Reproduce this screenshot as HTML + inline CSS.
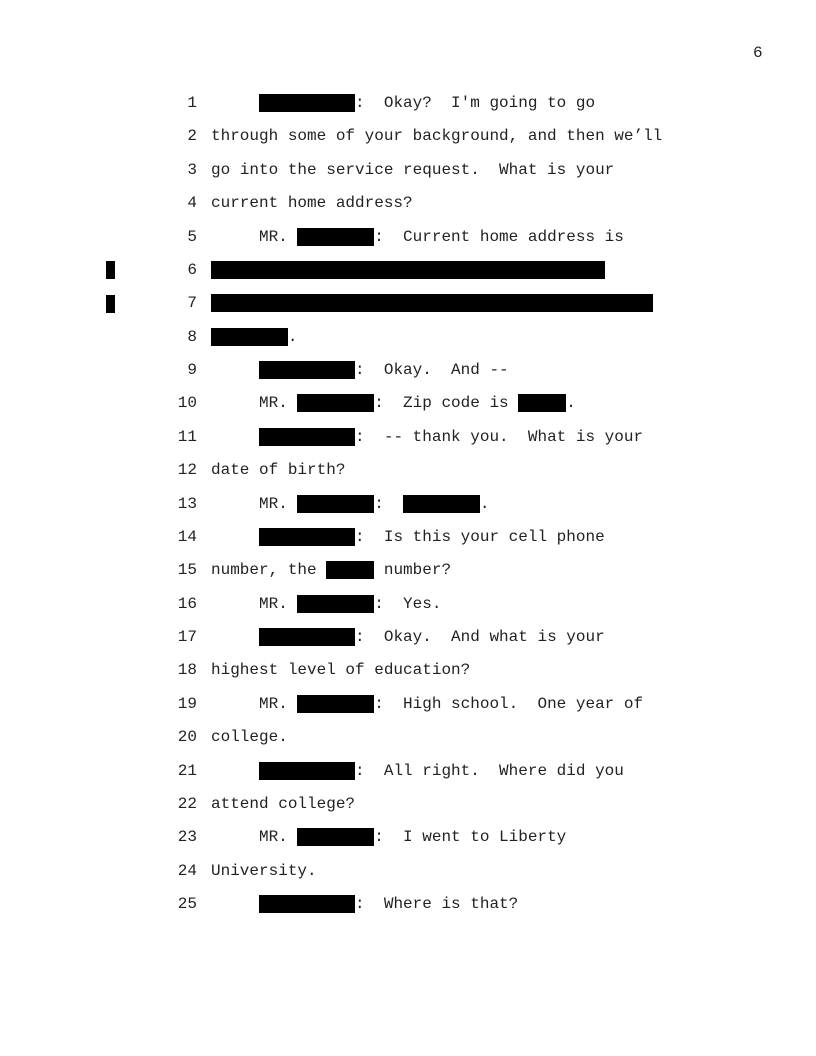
<!DOCTYPE html>
<html><head><meta charset="utf-8"><style>
body{margin:0;background:#fff;}
.pg{position:relative;width:816px;height:1056px;overflow:hidden;font-family:"Liberation Mono",monospace;font-size:16px;color:#222;}
.l{position:absolute;left:0;height:18px;line-height:18px;white-space:pre;}
.n{position:absolute;width:197px;text-align:right;left:0;}
.t{position:absolute;left:211px;}
.r{background:#000;color:#000;display:inline-block;height:18px;vertical-align:top;}
.m{position:absolute;left:106px;width:9px;height:18px;background:#000;}
</style></head><body><div class="pg">
<div style="position:absolute;left:753px;top:44px;line-height:18px">6</div>
<div class="m" style="top:261px"></div>
<div class="m" style="top:295px"></div>
<div class="l" style="top:94px"><span class="n">1</span><span class="t">     <span class="r">          </span>:  Okay?  I'm going to go</span></div>
<div class="l" style="top:127.4px"><span class="n">2</span><span class="t">through some of your background, and then we’ll</span></div>
<div class="l" style="top:160.8px"><span class="n">3</span><span class="t">go into the service request.  What is your</span></div>
<div class="l" style="top:194.1px"><span class="n">4</span><span class="t">current home address?</span></div>
<div class="l" style="top:227.5px"><span class="n">5</span><span class="t">     MR. <span class="r">        </span>:  Current home address is</span></div>
<div class="l" style="top:260.9px"><span class="n">6</span><span class="t"><span class="r">                                         </span></span></div>
<div class="l" style="top:294.3px"><span class="n">7</span><span class="t"><span class="r">                                              </span></span></div>
<div class="l" style="top:327.6px"><span class="n">8</span><span class="t"><span class="r">        </span>.</span></div>
<div class="l" style="top:361px"><span class="n">9</span><span class="t">     <span class="r">          </span>:  Okay.  And --</span></div>
<div class="l" style="top:394.4px"><span class="n">10</span><span class="t">     MR. <span class="r">        </span>:  Zip code is <span class="r">     </span>.</span></div>
<div class="l" style="top:427.8px"><span class="n">11</span><span class="t">     <span class="r">          </span>:  -- thank you.  What is your</span></div>
<div class="l" style="top:461.1px"><span class="n">12</span><span class="t">date of birth?</span></div>
<div class="l" style="top:494.5px"><span class="n">13</span><span class="t">     MR. <span class="r">        </span>:  <span class="r">        </span>.</span></div>
<div class="l" style="top:527.9px"><span class="n">14</span><span class="t">     <span class="r">          </span>:  Is this your cell phone</span></div>
<div class="l" style="top:561.3px"><span class="n">15</span><span class="t">number, the <span class="r">     </span> number?</span></div>
<div class="l" style="top:594.6px"><span class="n">16</span><span class="t">     MR. <span class="r">        </span>:  Yes.</span></div>
<div class="l" style="top:628px"><span class="n">17</span><span class="t">     <span class="r">          </span>:  Okay.  And what is your</span></div>
<div class="l" style="top:661.4px"><span class="n">18</span><span class="t">highest level of education?</span></div>
<div class="l" style="top:694.8px"><span class="n">19</span><span class="t">     MR. <span class="r">        </span>:  High school.  One year of</span></div>
<div class="l" style="top:728.1px"><span class="n">20</span><span class="t">college.</span></div>
<div class="l" style="top:761.5px"><span class="n">21</span><span class="t">     <span class="r">          </span>:  All right.  Where did you</span></div>
<div class="l" style="top:794.9px"><span class="n">22</span><span class="t">attend college?</span></div>
<div class="l" style="top:828.3px"><span class="n">23</span><span class="t">     MR. <span class="r">        </span>:  I went to Liberty</span></div>
<div class="l" style="top:861.6px"><span class="n">24</span><span class="t">University.</span></div>
<div class="l" style="top:895px"><span class="n">25</span><span class="t">     <span class="r">          </span>:  Where is that?</span></div>
</div></body></html>
